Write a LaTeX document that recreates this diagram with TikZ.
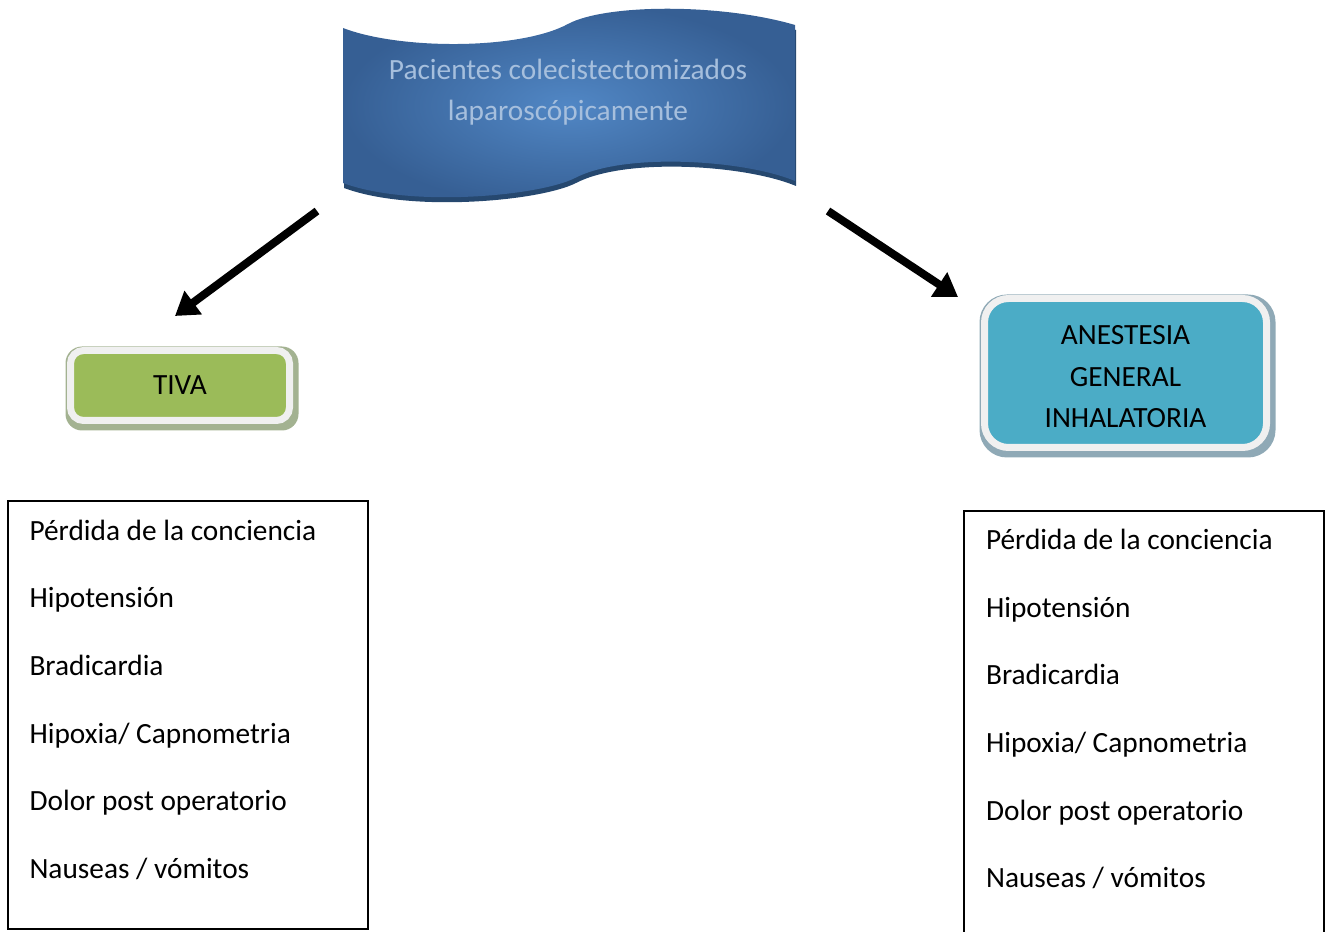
\documentclass[tikz,border=0pt]{standalone}
\usepackage{fontspec}
\setmainfont{Carlito}
\usetikzlibrary{arrows.meta,backgrounds}
\definecolor{bannerin}{HTML}{5187C5}
\definecolor{bannerout}{HTML}{365F94}
\definecolor{bannershadow}{HTML}{26486F}
\definecolor{bannertext}{HTML}{A6BFDD}
\definecolor{tivagreen}{HTML}{9BBB59}
\definecolor{tivashadow}{HTML}{A3B291}
\definecolor{agiblue}{HTML}{4BACC6}
\definecolor{agishadow}{HTML}{8FA9B6}
\definecolor{framegrey}{HTML}{F0F0F0}
\begin{document}
\begin{tikzpicture}[x=0.375pt,y=-0.375pt,
  every node/.style={font=\fontsize{11}{13.2}\selectfont, inner sep=0pt},
  framedbox/.style={draw=framegrey, line width=2.625pt, text=black},
  bigarrow/.style={line width=3pt, -{Triangle[length=8.5pt,width=10.5pt]}},
  listbox/.style={draw=black, line width=0.6pt},
  listtext/.style={anchor=base west, font=\fontsize{11}{25.4}\selectfont},
  wavepath/.style={insert path={(343,28) .. controls (400,50) and (520,50) .. (568,24)
      .. controls (605,4) and (720,3) .. (795,25) -- (795,181)
      .. controls (745,160) and (625,152) .. (575,178)
      .. controls (540,196) and (410,208) .. (343,183) -- cycle}}
]
\useasboundingbox (0,0) rectangle (1332,932);
\clip (0,0) rectangle (1332,932);

% banner
\fill[bannershadow, shift={(1,5)}, wavepath];
\shade[inner color=bannerin, outer color=bannerout, wavepath];
\node[anchor=base, text=bannertext, font=\fontsize{11}{15.26}\selectfont] (B) at (568,80)
  {\begin{tabular}[t]{@{}c@{}}Pacientes colecistectomizados\\laparoscópicamente\end{tabular}};

% TIVA box
\node[framedbox, fill=tivagreen, minimum width=82.125pt, minimum height=26.25pt,
  rounded corners=4.875pt] (T) at (180,385.5) {TIVA};

% Anestesia box
\node[framedbox, fill=agiblue, minimum width=105.75pt, minimum height=55.875pt,
  rounded corners=9pt] (A) at (1125.5,373) {};
\node[anchor=base, font=\fontsize{11}{15.5}\selectfont] (At) at (1125.5,345)
  {\begin{tabular}[t]{@{}c@{}}ANESTESIA\\GENERAL\\INHALATORIA\end{tabular}};

\begin{scope}[on background layer]
\fill[tivashadow, rounded corners=6.2pt] ([shift={(-0.5625pt,-2.4375pt)}]T.south west)
  rectangle ([shift={(2.0625pt,0.1875pt)}]T.north east);
\fill[agishadow, rounded corners=10.3pt] ([shift={(-0.5625pt,-2.4375pt)}]A.south west)
  rectangle ([shift={(2.0625pt,0.1875pt)}]A.north east);
\end{scope}

% arrows
\coordinate (l0) at (317,211);
\coordinate (l1) at (175,316);
\coordinate (r0) at (828,211);
\coordinate (r1) at (958,297);
\draw[bigarrow] (l0) -- (l1);
\draw[bigarrow] (r0) -- (r1);

% list boxes
\node[listbox, minimum width=135pt, minimum height=160.5pt] (L) at (188,715) {};
\node[listbox, minimum width=135pt, minimum height=168.375pt] (R) at (1144,735.5) {};
\node[listtext] (Lt) at (29,540)
  {\begin{tabular}[t]{@{}l@{}}Pérdida de la conciencia\\Hipotensión\\Bradicardia\\Hipoxia/ Capnometria\\Dolor post operatorio\\Nauseas / vómitos\end{tabular}};
\node[listtext] (Rt) at (985.5,549.3)
  {\begin{tabular}[t]{@{}l@{}}Pérdida de la conciencia\\Hipotensión\\Bradicardia\\Hipoxia/ Capnometria\\Dolor post operatorio\\Nauseas / vómitos\end{tabular}};
\end{tikzpicture}
\end{document}
